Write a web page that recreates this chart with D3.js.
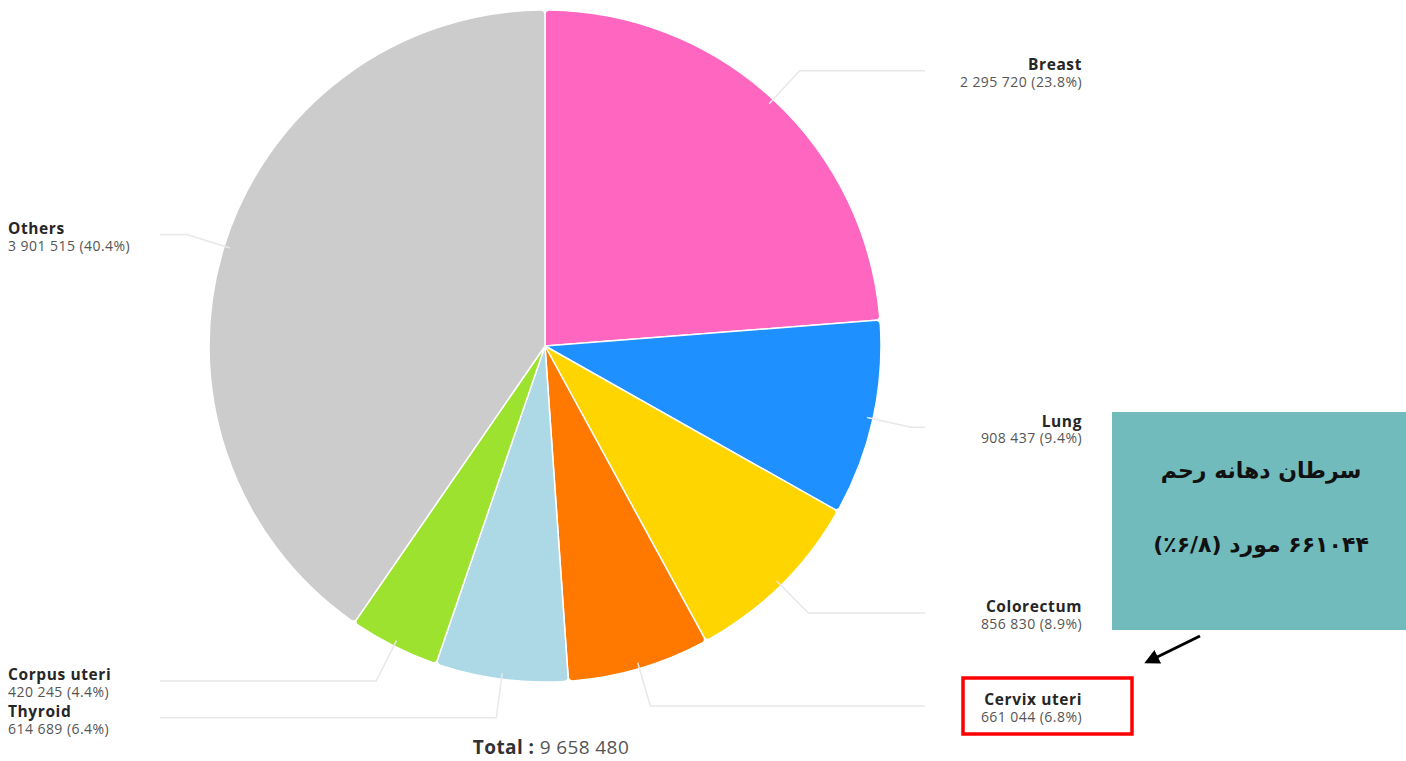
<!DOCTYPE html>
<html>
<head>
<meta charset="utf-8">
<script src="https://cdn.jsdelivr.net/npm/d3@7/dist/d3.min.js"></script>
<style>
  html, body { margin: 0; padding: 0; background: #ffffff; }
  svg { display: block; }
</style>
</head>
<body>
<svg id="chart" width="1406" height="761"></svg>
<script>
// ---- data ----
const categories = ["Breast", "Lung", "Colorectum", "Cervix uteri", "Thyroid", "Corpus uteri", "Others"];
const values = [2295720, 908437, 856830, 661044, 614689, 420245, 3901515];
const percents = ["23.8%", "9.4%", "8.9%", "6.8%", "6.4%", "4.4%", "40.4%"];
const colors = ["#ff66c0", "#1e90ff", "#ffd500", "#ff7800", "#add8e6", "#9de22e", "#cccccc"];
const calloutLines = ["سرطان دهانه رحم", "۶۶۱۰۴۴ مورد (۶/۸٪)"];
const totalLabel = "Total :";

// ---- layout ----
const svg = d3.select("#chart");
const cx = 545, cy = 346, R = 336, elbowR = 375;
const rightLineX = 925, leftLineX = 160;
const rightTextX = 1082, leftTextX = 8;

const fmt = v => d3.format(",")(v).replace(/,/g, " ");

const data = categories.map((c, i) => ({ name: c, value: values[i], pct: percents[i], color: colors[i] }));

const pie = d3.pie().value(d => d.value).sort(null);
const arcs = pie(data);

const arc = d3.arc().innerRadius(0).outerRadius(R).cornerRadius(4);

const g = svg.append("g").attr("transform", `translate(${cx},${cy})`);

// connectors (drawn first, under slices)
const conn = svg.append("g");
arcs.forEach(a => {
  const mid = (a.startAngle + a.endAngle) / 2;
  const sx = cx + Math.sin(mid) * (R - 6), sy = cy - Math.cos(mid) * (R - 6);
  const ex = cx + Math.sin(mid) * elbowR, ey = cy - Math.cos(mid) * elbowR;
  const right = Math.sin(mid) > 0;
  const hx = right ? rightLineX : leftLineX;
  a.ey = ey; a.right = right;
  conn.append("path")
    .attr("d", `M${sx},${sy}L${ex},${ey}L${hx},${ey}`)
    .attr("fill", "none")
    .attr("stroke", "#e8e8e8")
    .attr("stroke-width", 1.5);
});

g.selectAll("path.slice")
  .data(arcs)
  .join("path")
  .attr("class", "slice")
  .attr("d", arc)
  .attr("fill", d => d.data.color)
  .attr("stroke", "#ffffff")
  .attr("stroke-width", 1.5)
  .attr("stroke-linejoin", "round");

// labels (name + value as two lines of one text)
const lab = svg.append("g").attr("font-family", "'Open Sans', sans-serif");
arcs.forEach(a => {
  const x = a.right ? rightTextX : leftTextX;
  const anchor = a.right ? "end" : "start";
  const yc = a.ey + 3;
  const t = lab.append("text")
    .attr("x", x).attr("y", yc - 3.5)
    .attr("text-anchor", anchor);
  t.append("tspan")
    .attr("x", x).attr("y", yc - 3.5)
    .attr("font-size", 15.5).attr("font-weight", 700)
    .attr("letter-spacing", 0.6)
    .attr("fill", "#262626")
    .text(a.data.name);
  t.append("tspan")
    .attr("x", x).attr("y", yc + 13)
    .attr("font-size", 14)
    .attr("letter-spacing", 0.45)
    .attr("fill", "#555555")
    .text(`${fmt(a.data.value)} (${a.data.pct})`);
});

// total
const tt = svg.append("text")
  .attr("x", 551).attr("y", 754)
  .attr("text-anchor", "middle")
  .attr("font-family", "'Open Sans', sans-serif")
  .attr("font-size", 19)
  .attr("letter-spacing", 0.4);
tt.append("tspan").attr("font-weight", 700).attr("fill", "#333333").text(totalLabel);
tt.append("tspan").attr("fill", "#555555").text(" " + fmt(d3.sum(values)));

// red highlight box around Cervix uteri label
svg.append("rect")
  .attr("x", 963).attr("y", 678).attr("width", 169).attr("height", 56)
  .attr("fill", "none").attr("stroke", "#ff0000").attr("stroke-width", 3.5);

// teal callout box
svg.append("rect")
  .attr("x", 1112).attr("y", 412).attr("width", 294).attr("height", 218)
  .attr("fill", "#72bbbc");
const callout = svg.append("g")
  .attr("font-family", "'DejaVu Sans', sans-serif")
  .attr("font-weight", 700)
  .attr("font-size", 22)
  .attr("fill", "#111111")
  .attr("text-anchor", "middle");
calloutLines.forEach((t, i) => {
  callout.append("text")
    .attr("x", 1261).attr("y", 478 + i * 74)
    .attr("direction", "rtl")
    .style("direction", "rtl")
    .style("unicode-bidi", "embed")
    .text(t);
});

// arrow
const defs = svg.append("defs");
defs.append("marker")
  .attr("id", "ah").attr("viewBox", "0 0 10 10")
  .attr("refX", 8).attr("refY", 5)
  .attr("markerWidth", 5).attr("markerHeight", 5)
  .attr("orient", "auto")
  .append("path").attr("d", "M0,0L10,5L0,10Z").attr("fill", "#000");
svg.append("line")
  .attr("x1", 1200).attr("y1", 636).attr("x2", 1147).attr("y2", 662)
  .attr("stroke", "#000").attr("stroke-width", 3)
  .attr("marker-end", "url(#ah)");
</script>
</body>
</html>
